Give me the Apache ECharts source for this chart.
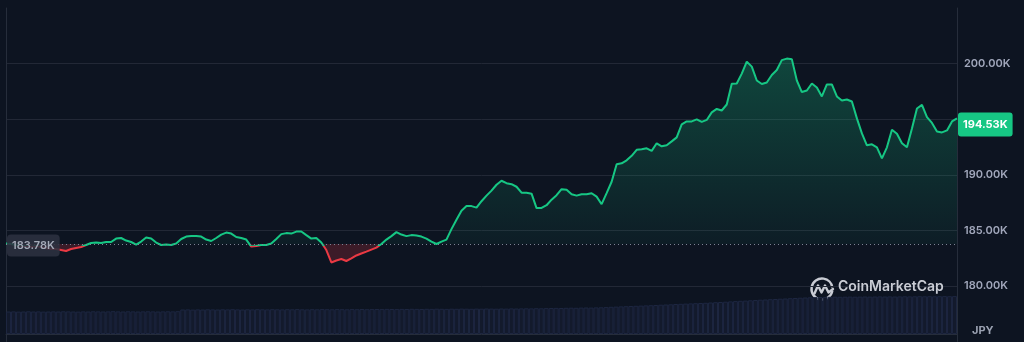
<!DOCTYPE html>
<html>
<head>
<meta charset="utf-8">
<style>
  html, body { margin: 0; padding: 0; background: #0d1421; }
  #chart { width: 1024px; height: 342px; }
</style>
<script src="https://cdn.jsdelivr.net/npm/echarts@6/dist/echarts.min.js"></script>
</head>
<body>
<div id="chart"></div>
<script>
// ---- data ----
const baselinePrice = 183.78;   // reference (open) price, K JPY
const currentPrice = 194.53;    // last price shown in the tag, K JPY
const currency = 'JPY';
const yTickLabels = ['180.00K', '185.00K', '190.00K', '200.00K'];

const prices = [
  183.81,183.77,183.68,183.59,183.59,183.50,183.59,183.50,183.41,183.32,
  183.32,183.23,183.14,183.32,183.41,183.50,183.68,183.86,183.90,183.86,
  183.95,183.95,184.26,184.31,184.08,183.95,183.72,183.99,184.35,184.26,
  183.90,183.68,183.72,183.68,183.81,184.22,184.44,184.48,184.48,184.44,
  184.17,184.04,184.31,184.62,184.80,184.71,184.40,184.31,184.17,183.54,
  183.59,183.68,183.68,183.81,184.22,184.66,184.75,184.71,184.89,184.89,
  184.57,184.26,184.31,183.90,183.23,182.11,182.29,182.42,182.24,182.47,
  182.74,182.92,183.09,183.27,183.45,183.77,184.17,184.48,184.84,184.62,
  184.48,184.57,184.53,184.44,184.26,183.99,183.77,183.99,184.17,185.11,
  185.96,186.77,187.18,187.18,187.04,187.62,188.12,188.57,189.10,189.46,
  189.24,189.15,188.92,188.39,188.39,188.30,187.00,187.02,187.26,187.76,
  188.16,188.70,188.65,188.25,188.12,188.25,188.25,188.34,188.03,187.35,
  188.34,189.37,190.94,191.03,191.30,191.70,192.24,192.29,192.38,192.15,
  192.83,192.56,192.65,193.00,193.36,194.53,194.80,194.80,194.98,194.75,
  194.93,195.61,195.92,195.78,196.32,198.18,198.21,199.10,200.18,199.73,
  198.48,198.16,198.30,198.97,199.42,200.31,200.45,200.40,198.48,197.44,
  197.58,198.21,197.85,197.04,198.12,198.12,197.04,196.68,196.77,196.59,
  195.07,193.72,192.65,192.74,192.47,191.48,192.47,194.04,193.68,192.83,
  192.47,194.17,195.96,196.28,195.18,194.66,193.90,193.81,193.99,194.80,
  195.07
];

const volumes = [
  22.5,22.6,22.4,22.5,22.7,22.5,22.6,22.4,22.5,22.6,
  22.5,22.7,22.6,22.5,22.4,22.6,22.5,22.7,22.6,22.5,
  22.6,22.8,22.6,22.5,22.7,22.6,22.5,22.6,22.7,22.6,
  22.5,22.6,22.7,22.6,22.8,24.5,24.6,24.4,24.6,24.5,
  24.7,24.6,24.5,24.7,24.6,24.8,24.6,24.5,24.7,24.6,
  24.8,24.7,24.6,24.8,24.7,24.6,24.8,24.7,24.9,24.7,
  24.6,24.8,24.7,24.9,24.8,24.7,24.9,24.8,24.7,24.9,
  24.8,25.0,24.8,24.9,25.0,24.9,25.1,25.0,24.9,25.1,
  25.0,25.2,25.1,25.0,25.2,25.1,25.3,25.2,25.1,25.3,
  25.2,25.4,25.3,25.2,25.4,25.3,25.5,25.4,25.3,25.5,
  25.4,25.6,25.5,25.6,25.7,25.6,25.8,25.7,25.9,26.0,
  26.1,26.0,26.2,26.3,26.2,26.4,26.5,26.4,26.6,26.7,
  26.9,27.2,27.4,27.6,27.8,28.0,28.2,28.4,28.6,28.8,
  29.0,29.3,29.5,29.7,30.0,30.2,30.4,30.6,30.8,31.0,
  31.2,31.5,31.8,32.0,32.3,32.6,32.9,33.2,33.4,33.7,
  34.0,34.3,34.5,34.8,35.0,35.3,35.5,35.8,36.0,36.3,
  36.5,36.7,36.9,37.0,37.1,37.2,37.3,37.2,37.3,37.4,
  37.3,37.4,37.5,37.4,37.5,37.6,37.5,37.6,37.5,37.6,
  37.7,37.6,37.7,37.8,37.7,37.8,37.7,37.8,37.9,37.8,
  37.9
];

const categories = prices.map((_, i) => 'T' + i);

// ---- derived series for baseline fills ----
const baseArr = prices.map(() => baselinePrice);
const upFill = prices.map(v => Math.max(v - baselinePrice, 0));
const downLow = prices.map(v => Math.min(v, baselinePrice));
const downFill = prices.map(v => baselinePrice - Math.min(v, baselinePrice));

const GREEN = '#16c784';
const RED = '#ea3943';
const GRID = '#222836';
const AXIS = '#262d3b';
const LABEL = '#a1a7bb';
const FONT = 'Inter, "Noto Sans", sans-serif';

// line colour switches from green to red where it crosses the baseline
const pMax = Math.max.apply(null, prices);
const pMin = Math.min.apply(null, prices);
const cut = (pMax - baselinePrice) / (pMax - pMin);
const lineGradient = new echarts.graphic.LinearGradient(0, 0, 0, 1, [
  { offset: 0, color: GREEN }, { offset: cut, color: GREEN },
  { offset: cut, color: RED }, { offset: 1, color: RED }
]);

const chart = echarts.init(document.getElementById('chart'), null, { renderer: 'canvas' });

chart.setOption({
  backgroundColor: '#0d1421',
  animation: false,
  textStyle: { fontFamily: FONT },
  grid: [
    { left: 6, right: 67, top: 8, bottom: 0.5 },
    { left: 6, right: 67, top: 294, bottom: 8 }
  ],
  xAxis: [
    { type: 'category', gridIndex: 0, data: categories, boundaryGap: false,
      axisLine: { show: false }, axisTick: { show: false }, axisLabel: { show: false }, splitLine: { show: false } },
    { type: 'category', gridIndex: 1, data: categories, boundaryGap: true,
      axisLine: { show: true, lineStyle: { color: AXIS, width: 1 } },
      axisTick: { show: false }, axisLabel: { show: false }, splitLine: { show: false } }
  ],
  yAxis: [
    { type: 'value', gridIndex: 0, position: 'right', min: 175, max: 205, interval: 5,
      axisLine: { show: true, lineStyle: { color: AXIS, width: 1 } },
      axisTick: { show: false },
      axisLabel: {
        color: LABEL, fontSize: 11, fontWeight: 600, fontFamily: FONT, margin: 7,
        formatter: v => { const s = v.toFixed(2) + 'K'; return yTickLabels.indexOf(s) >= 0 ? s : ''; }
      },
      splitLine: { show: true, lineStyle: { color: ['transparent', GRID, GRID, GRID, GRID, GRID, 'transparent'], width: 1 } }
    },
    { type: 'value', gridIndex: 0, position: 'left', min: 0, max: 1,
      axisLine: { show: true, lineStyle: { color: AXIS, width: 1 } },
      axisTick: { show: false }, axisLabel: { show: false }, splitLine: { show: false } },
    { type: 'value', gridIndex: 1, min: 0, max: 40, show: false, splitLine: { show: false } }
  ],
  series: [
    { name: 'upBase', type: 'line', stack: 'up', data: baseArr, xAxisIndex: 0, yAxisIndex: 0,
      z: 6, symbol: 'none', silent: true, lineStyle: { width: 0, color: 'transparent' },
      markLine: {
        silent: true, symbol: ['none', 'none'], animation: false,
        data: [
          { yAxis: baselinePrice,
            lineStyle: { type: [1, 3], color: '#7c8494', width: 1 },
            label: { show: false } },
          { yAxis: currentPrice,
            lineStyle: { width: 0, color: 'transparent' },
            label: { show: true, position: 'end', distance: 1,
              formatter: currentPrice.toFixed(2) + 'K',
              backgroundColor: GREEN, color: '#ffffff', fontSize: 11, fontWeight: 700,
              fontFamily: FONT, padding: [6, 5, 5, 5], borderRadius: 3, lineHeight: 13 } }
        ]
      },
      markPoint: {
        silent: true, symbol: 'circle', symbolSize: 0, animation: false,
        data: [{ coord: [0, baselinePrice] }],
        label: { show: true, position: 'right', distance: 1, offset: [0, 1.5],
          formatter: baselinePrice.toFixed(2) + 'K',
          backgroundColor: 'rgba(44,49,64,0.88)', color: '#a4aab8', fontSize: 11, fontWeight: 600,
          fontFamily: FONT, padding: [5, 5, 4, 5], borderRadius: 4, lineHeight: 13 }
      }
    },
    { name: 'upArea', type: 'line', stack: 'up', data: upFill, symbol: 'none', silent: true,
      lineStyle: { width: 0, color: 'transparent' },
      areaStyle: { color: new echarts.graphic.LinearGradient(0, 0, 0, 1, [
        { offset: 0, color: 'rgba(22,199,132,0.40)' },
        { offset: 1, color: 'rgba(22,199,132,0.07)' }
      ]) } },
    { name: 'downBase', type: 'line', stack: 'down', data: downLow, symbol: 'none', silent: true,
      lineStyle: { width: 0, color: 'transparent' } },
    { name: 'downArea', type: 'line', stack: 'down', data: downFill, symbol: 'none', silent: true,
      lineStyle: { width: 0, color: 'transparent' },
      areaStyle: { color: 'rgba(234,57,67,0.30)' } },
    { name: 'price', type: 'line', data: prices, symbol: 'none', z: 4,
      lineStyle: { width: 2, color: lineGradient } },
    { name: 'volume', type: 'bar', xAxisIndex: 1, yAxisIndex: 2, data: volumes,
      barCategoryGap: '0%', silent: true,
      itemStyle: { color: '#131a2c', borderColor: '#1d2640', borderWidth: 1 } }
  ],
  graphic: [
    { type: 'text', left: 972, top: 325,
      style: { text: currency, fill: '#9aa1b1', font: '700 11px ' + FONT } },
    { type: 'group', left: 809, top: 276, z: 10, children: [
      { type: 'arc', shape: { cx: 11.5, cy: 11.5, r: 10.5, startAngle: Math.PI * 0.05, endAngle: Math.PI * 1.95 },
        style: { stroke: '#c9ccd4', lineWidth: 2.4, fill: 'none' } },
      { type: 'polyline', shape: { points: [[4, 16], [7.5, 8], [11, 15], [14.5, 8], [18, 15], [22.5, 11.5]] },
        style: { stroke: '#c9ccd4', lineWidth: 2.4, fill: 'none', lineJoin: 'round', lineCap: 'round' } }
    ] },
    { type: 'text', left: 838, top: 280, z: 10,
      style: { text: 'CoinMarketCap', fill: '#c9ccd4', font: '600 14px ' + FONT } }
  ]
});
</script>
</body>
</html>
